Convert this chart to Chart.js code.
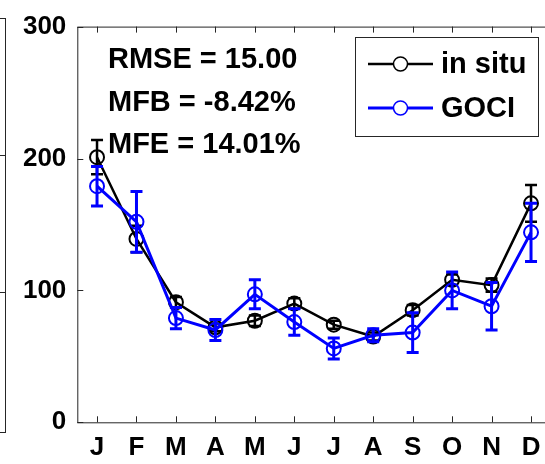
<!DOCTYPE html>
<html>
<head>
<meta charset="utf-8">
<script src="https://cdn.jsdelivr.net/npm/chart.js@4"></script>
<style>
    html, body { margin: 0; padding: 0; background: #fff; overflow: hidden; }
    .container_plot { position: relative; width: 545px; height: 464px; overflow: hidden; }
    #myChart { position: absolute; left: 0; top: 0; }
    /* right edge of the neighbouring panel */
    .panel_vizinho { position: absolute; left: -100px; top: 18px; width: 104px; height: 413px; border: 1px solid #262626; }
    .tick_vizinho { position: absolute; left: 0; width: 5px; height: 1px; background: #262626; }
</style>
</head>
<body>
<div class="container_plot">
    <div class="panel_vizinho"></div>
    <div class="tick_vizinho" style="top:155px"></div>
    <div class="tick_vizinho" style="top:292px"></div>
    <canvas id="myChart" width="560" height="464"></canvas>
</div>
<script>
const meses = ['J', 'F', 'M', 'A', 'M', 'J', 'J', 'A', 'S', 'O', 'N', 'D'];
const inSitu = [201, 139, 91, 72, 77, 90, 74, 65, 85, 108, 104, 166];
const inSituDesvio = [13, 10, 4, 3, 4, 4, 3, 3, 4, 4, 5, 14];
const goci = [179, 152, 79, 70, 97, 76, 56, 66, 68, 100, 88, 144];
const gociDesvio = [15, 23, 8, 8, 11, 10, 8, 5, 15, 14, 18, 22];
const ticksY = [0, 100, 200, 300];
const estatisticas = ['RMSE = 15.00', 'MFB = -8.42%', 'MFE = 14.01%'];

const fonteTexto = 'bold 29px "Liberation Sans", Arial, sans-serif';
const corEixo = '#262626';

// barras de erro (media +- desvio) desenhadas junto com cada serie
const barrasErro = {
    id: 'barrasErro',
    afterDatasetDraw(chart, args) {
        const ds = chart.data.datasets[args.index];
        const y = chart.scales.y;
        const ctx = chart.ctx;
        ctx.save();
        ctx.strokeStyle = ds.borderColor;
        ctx.lineWidth = ds.borderWidth;
        args.meta.data.forEach(function (ponto, i) {
            const topo = y.getPixelForValue(ds.data[i] + ds.desvio[i]);
            const base = y.getPixelForValue(ds.data[i] - ds.desvio[i]);
            ctx.beginPath();
            ctx.moveTo(ponto.x, topo);
            ctx.lineTo(ponto.x, base);
            ctx.moveTo(ponto.x - 6, topo);
            ctx.lineTo(ponto.x + 6, topo);
            ctx.moveTo(ponto.x - 6, base);
            ctx.lineTo(ponto.x + 6, base);
            ctx.stroke();
        });
        ctx.restore();
    }
};

// moldura com ticks para dentro, textos de estatistica e legenda
const moldura = {
    id: 'moldura',
    afterDraw(chart) {
        const ctx = chart.ctx;
        const area = chart.chartArea;
        const x = chart.scales.x;
        const y = chart.scales.y;
        ctx.save();
        ctx.strokeStyle = corEixo;
        ctx.lineWidth = 1;
        ctx.strokeRect(area.left + 0.5, area.top + 0.5, area.right - area.left, area.bottom - area.top);
        ctx.beginPath();
        meses.forEach(function (m, i) {
            const px = Math.round(x.getPixelForValue(i)) + 0.5;
            ctx.moveTo(px, area.bottom);
            ctx.lineTo(px, area.bottom - 6);
            ctx.moveTo(px, area.top);
            ctx.lineTo(px, area.top + 6);
        });
        ticksY.forEach(function (v) {
            const py = Math.round(y.getPixelForValue(v)) + 0.5;
            ctx.moveTo(area.left, py);
            ctx.lineTo(area.left + 6, py);
        });
        ctx.stroke();

        // textos
        ctx.fillStyle = '#000';
        ctx.font = fonteTexto;
        ctx.textBaseline = 'alphabetic';
        ctx.textAlign = 'left';
        estatisticas.forEach(function (t, i) {
            ctx.fillText(t, 108, 68 + i * 42.5);
        });

        // legenda
        ctx.fillStyle = '#fff';
        ctx.fillRect(355, 37, 183, 99);
        ctx.strokeStyle = corEixo;
        ctx.strokeRect(355.5, 37.5, 183, 99);
        chart.data.datasets.forEach(function (ds, i) {
            const ly = 64 + i * 44;
            ctx.strokeStyle = ds.borderColor;
            ctx.lineWidth = ds.borderWidth;
            ctx.beginPath();
            ctx.moveTo(368, ly);
            ctx.lineTo(433, ly);
            ctx.stroke();
            ctx.lineWidth = 1.5;
            ctx.beginPath();
            ctx.arc(400.5, ly, 7, 0, Math.PI * 2);
            ctx.fillStyle = '#fff';
            ctx.fill();
            ctx.stroke();
            ctx.fillStyle = '#000';
            ctx.font = fonteTexto;
            ctx.textBaseline = 'middle';
            ctx.fillText(ds.label, 441, ly + 1);
        });
        ctx.restore();
    }
};

const ctx1 = document.getElementById('myChart');

var grafico = new Chart(ctx1, {
    type: 'line',
    data: {
        labels: meses,
        datasets: [{
            label: 'in situ',
            data: inSitu,
            desvio: inSituDesvio,
            borderColor: '#000000',
            borderWidth: 2.5,
            pointRadius: 7,
            pointBorderWidth: 2,
            pointBackgroundColor: 'rgba(0,0,0,0)',
            pointBorderColor: '#000000',
            tension: 0,
            order: 2
        }, {
            label: 'GOCI',
            data: goci,
            desvio: gociDesvio,
            borderColor: '#0000ff',
            borderWidth: 3,
            pointRadius: 7,
            pointBorderWidth: 2,
            pointBackgroundColor: 'rgba(0,0,0,0)',
            pointBorderColor: '#0000ff',
            tension: 0,
            order: 1
        }]
    },
    options: {
        responsive: false,
        animation: false,
        devicePixelRatio: 1,
        layout: {
            padding: { top: 22.7, right: 9.25, left: 0, bottom: 0 }
        },
        plugins: {
            legend: { display: false },
            tooltip: { enabled: false }
        },
        scales: {
            x: {
                type: 'category',
                offset: true,
                grid: { display: false, drawTicks: false },
                border: { display: false },
                ticks: {
                    color: '#000',
                    font: { family: '"Liberation Sans", Arial, sans-serif', size: 26, weight: 'bold' },
                    padding: 10,
                    maxRotation: 0,
                    autoSkip: false
                },
                afterFit: function (scale) { scale.height = 41.7; }
            },
            y: {
                min: 0,
                max: 300,
                grid: { display: false, drawTicks: false },
                border: { display: false },
                ticks: {
                    stepSize: 100,
                    color: '#000',
                    font: { family: '"Liberation Sans", Arial, sans-serif', size: 26, weight: 'bold' },
                    padding: 11
                },
                afterFit: function (scale) { scale.width = 77.3; }
            }
        }
    },
    plugins: [barrasErro, moldura]
});
</script>
</body>
</html>
